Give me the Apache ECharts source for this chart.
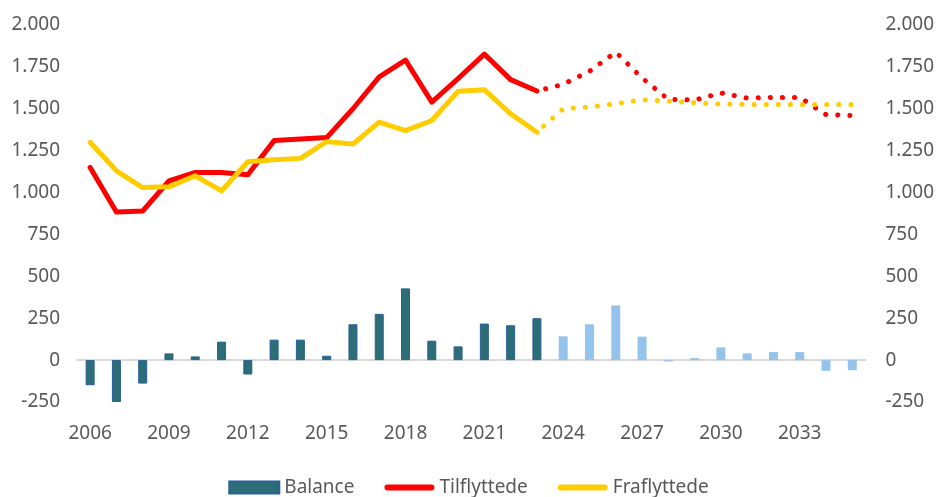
<!DOCTYPE html>
<html>
<head>
<meta charset="utf-8">
<script src="https://cdn.jsdelivr.net/npm/echarts@6/dist/echarts.min.js"></script>
<style>
  html, body { margin: 0; padding: 0; background: #fff; }
  #chart { width: 937px; height: 497px; }
</style>
</head>
<body>
<div id="chart"></div>
<script>
const years = []
for (let y = 2006; y <= 2035; y++) years.push(String(y))

// 2006-2023 faktisk, 2024-2035 prognose
const lastActual = '2023'

const balance = [-150, -250, -140, 40, 22, 110, -86, 122, 122, 26,
  214, 276, 428, 116, 82, 218, 208, 250,
  142, 214, 326, 140, -8, 12, 76, 40, 48, 48, -64, -60]

const tilflyttede = [1150, 884, 890, 1070, 1120, 1120, 1106, 1310, 1320, 1328,
  1500, 1690, 1790, 1540, 1680, 1826, 1674, 1606,
  1646, 1724, 1838, 1684, 1556, 1552, 1594, 1564, 1568, 1568, 1465, 1460]

const fraflyttede = [1300, 1130, 1030, 1034, 1100, 1010, 1184, 1196, 1204, 1304,
  1290, 1420, 1370, 1430, 1604, 1614, 1470, 1360,
  1500, 1510, 1530, 1554, 1546, 1536, 1528, 1526, 1526, 1525, 1525, 1525]

const yTicks = { min: -250, max: 2000, interval: 250 }

const cut = years.indexOf(lastActual)
const solidPart = arr => arr.map((v, i) => (i <= cut ? v : null))
const dottedPart = arr => arr.map((v, i) => (i >= cut ? v : null))

const RED = '#FF0000'
const YELLOW = '#FFCC00'
const TEAL = '#2C6E75'
const TEAL_BORDER = '#2B5F9C'
const LIGHT = '#94C3EC'

// tusindtalsseparator med punktum
function fmt(v) {
  return String(v).replace(/\B(?=(\d{3})+(?!\d))/g, '.')
}

const labelStyle = { color: '#595959', fontSize: 19, fontFamily: 'Noto Sans' }
const lineIcon = 'path://M3,0 L47,0 A3,3 0 0 1 47,6 L3,6 A3,3 0 0 1 3,0 Z'

const chart = echarts.init(document.getElementById('chart'))

chart.setOption({
  animation: false,
  grid: { left: 77, right: 71, top: 25, bottom: 95 },
  legend: {
    data: [
      { name: 'Balance', icon: 'rect' },
      { name: 'Tilflyttede', icon: lineIcon },
      { name: 'Fraflyttede', icon: lineIcon }
    ],
    top: 473,
    left: 'center',
    itemWidth: 50,
    itemHeight: 12,
    itemGap: 30,
    textStyle: { color: '#595959', fontSize: 19, fontFamily: 'Noto Sans', padding: [0, 0, 0, 0] }
  },
  xAxis: {
    type: 'category',
    data: years,
    axisTick: { show: false },
    axisLine: { lineStyle: { color: '#D9D9D9', width: 2 } },
    axisLabel: { ...labelStyle, interval: 2, margin: 22 }
  },
  yAxis: [
    {
      type: 'value',
      ...yTicks,
      splitLine: { show: false },
      axisLine: { show: false },
      axisLabel: { ...labelStyle, margin: 17, formatter: fmt }
    },
    {
      type: 'value',
      ...yTicks,
      position: 'right',
      splitLine: { show: false },
      axisLine: { show: false },
      axisLabel: { ...labelStyle, margin: 20, formatter: fmt }
    }
  ],
  series: [
    {
      name: 'Balance',
      type: 'bar',
      barWidth: 9,
      itemStyle: { color: TEAL, borderColor: TEAL_BORDER, borderWidth: 1 },
      data: balance.map((v, i) => ({
        value: v,
        itemStyle: i <= cut
          ? { color: TEAL, borderColor: TEAL_BORDER, borderWidth: 1 }
          : { color: LIGHT, borderColor: LIGHT, borderWidth: 0 }
      }))
    },
    {
      name: 'Tilflyttede',
      type: 'line',
      data: solidPart(tilflyttede),
      symbol: 'none',
      color: RED,
      lineStyle: { color: RED, width: 5, join: 'round', cap: 'round' }
    },
    {
      name: 'Fraflyttede',
      type: 'line',
      data: solidPart(fraflyttede),
      symbol: 'none',
      color: YELLOW,
      lineStyle: { color: YELLOW, width: 5, join: 'round', cap: 'round' }
    },
    {
      name: 'Tilflyttede prognose',
      type: 'line',
      data: dottedPart(tilflyttede),
      symbol: 'none',
      lineStyle: { color: RED, width: 5, type: [0.1, 12], dashOffset: -9, cap: 'round' }
    },
    {
      name: 'Fraflyttede prognose',
      type: 'line',
      data: dottedPart(fraflyttede),
      symbol: 'none',
      lineStyle: { color: YELLOW, width: 5, type: [0.1, 12], dashOffset: -9, cap: 'round' }
    }
  ]
})
</script>
</body>
</html>
